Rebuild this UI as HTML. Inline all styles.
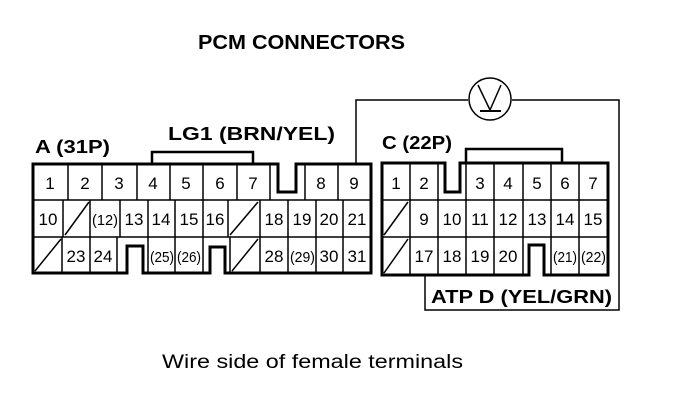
<!DOCTYPE html>
<html><head><meta charset="utf-8"><style>
html,body{margin:0;padding:0;background:#fff;}
svg{display:block;}
text{font-family:"Liberation Sans",Arial,sans-serif;fill:#000;}
.n{font-size:17px;text-anchor:middle;}
.s{font-size:15px;}
.b{font-weight:bold;}
</style></head><body>
<svg width="688" height="402" viewBox="0 0 688 402" xmlns="http://www.w3.org/2000/svg">
<g fill="none" stroke="#000">
<path d="M33,164 H278 V192 H296 V164 H371 V273 H225 V247 H210 V273 H143 V246 H127 V273 H33 Z" stroke-width="3"/>
<g stroke-width="1.5">
<line x1="33" y1="200" x2="371" y2="200"/>
<line x1="33" y1="237" x2="371" y2="237"/>
<line x1="68" y1="164" x2="68" y2="200"/><line x1="102" y1="164" x2="102" y2="200"/>
<line x1="137" y1="164" x2="137" y2="200"/><line x1="170" y1="164" x2="170" y2="200"/>
<line x1="203" y1="164" x2="203" y2="200"/><line x1="237" y1="164" x2="237" y2="200"/>
<line x1="270" y1="164" x2="270" y2="200"/><line x1="305" y1="164" x2="305" y2="200"/>
<line x1="338" y1="164" x2="338" y2="200"/>
<line x1="63" y1="200" x2="63" y2="237"/><line x1="90" y1="200" x2="90" y2="237"/>
<line x1="120" y1="200" x2="120" y2="237"/><line x1="148" y1="200" x2="148" y2="237"/>
<line x1="175" y1="200" x2="175" y2="237"/><line x1="203" y1="200" x2="203" y2="237"/>
<line x1="228" y1="200" x2="228" y2="237"/><line x1="260" y1="200" x2="260" y2="237"/>
<line x1="288" y1="200" x2="288" y2="237"/><line x1="316" y1="200" x2="316" y2="237"/>
<line x1="343" y1="200" x2="343" y2="237"/>
<line x1="65" y1="235" x2="89" y2="202"/><line x1="230" y1="235" x2="258" y2="202"/>
<line x1="62" y1="237" x2="62" y2="273"/><line x1="90" y1="237" x2="90" y2="273"/>
<line x1="117" y1="237" x2="117" y2="273"/><line x1="148" y1="237" x2="148" y2="273"/>
<line x1="175" y1="237" x2="175" y2="273"/><line x1="203" y1="237" x2="203" y2="273"/>
<line x1="230" y1="237" x2="230" y2="273"/><line x1="260" y1="237" x2="260" y2="273"/>
<line x1="288" y1="237" x2="288" y2="273"/><line x1="316" y1="237" x2="316" y2="273"/>
<line x1="343" y1="237" x2="343" y2="273"/>
<line x1="35" y1="271" x2="61" y2="239"/><line x1="232" y1="271" x2="258" y2="239"/>
</g>
<path d="M152,164 V152 H253 V164" stroke-width="2.5"/>

<path d="M382,163 H445 V192 H460 V163 H608 V275 H544 V245 H529 V275 H382 Z" stroke-width="3"/>
<g stroke-width="1.5">
<line x1="382" y1="200" x2="608" y2="200"/>
<line x1="382" y1="237" x2="608" y2="237"/>
<line x1="410" y1="163" x2="410" y2="275"/>
<line x1="438" y1="163" x2="438" y2="275"/>
<line x1="466" y1="163" x2="466" y2="275"/><line x1="494" y1="163" x2="494" y2="275"/>
<line x1="523" y1="163" x2="523" y2="275"/><line x1="551" y1="163" x2="551" y2="275"/>
<line x1="579" y1="163" x2="579" y2="275"/>
<line x1="384" y1="235" x2="408" y2="202"/><line x1="384" y1="273" x2="408" y2="239"/>
</g>
<path d="M466,163 V149 H562 V163" stroke-width="2.5"/>

<g stroke-width="1.5">
<path d="M356,164 V100 H468"/>
<path d="M512,100 H619 V310 H425 V275"/>
<circle cx="490" cy="99" r="21"/>
<path d="M478,85 L490,110 L501,85"/>
<line x1="480" y1="111" x2="501" y2="111" stroke-width="2"/>
</g>
</g>

<text x="198" y="49" class="b" font-size="20" textLength="207" lengthAdjust="spacingAndGlyphs">PCM CONNECTORS</text>
<text x="35" y="153" class="b" font-size="18" textLength="75" lengthAdjust="spacingAndGlyphs">A (31P)</text>
<text x="168" y="140" class="b" font-size="18" textLength="167" lengthAdjust="spacingAndGlyphs">LG1 (BRN/YEL)</text>
<text x="382" y="149" class="b" font-size="18" textLength="70" lengthAdjust="spacingAndGlyphs">C (22P)</text>
<text x="431" y="303" class="b" font-size="18" textLength="181" lengthAdjust="spacingAndGlyphs">ATP D (YEL/GRN)</text>
<text x="162" y="368" font-size="19" textLength="301" lengthAdjust="spacingAndGlyphs">Wire side of female terminals</text>

<g class="n">
<text x="50" y="189">1</text><text x="85" y="189">2</text><text x="119" y="189">3</text>
<text x="153" y="189">4</text><text x="186" y="189">5</text><text x="220" y="189">6</text>
<text x="253" y="189">7</text><text x="321" y="189">8</text><text x="354" y="189">9</text>
<text x="48" y="225">10</text><text x="134" y="225">13</text>
<text x="161" y="225">14</text><text x="189" y="225">15</text><text x="215" y="225">16</text>
<text x="274" y="225">18</text><text x="302" y="225">19</text><text x="329" y="225">20</text>
<text x="357" y="225">21</text>
<text x="76" y="262">23</text><text x="103" y="262">24</text>
<text x="274" y="262">28</text><text x="329" y="262">30</text><text x="357" y="262">31</text>
</g>
<g class="s">
<text x="92" y="225" textLength="26" lengthAdjust="spacingAndGlyphs">(12)</text>
<text x="150" y="262" textLength="24" lengthAdjust="spacingAndGlyphs">(25)</text>
<text x="177" y="262" textLength="24" lengthAdjust="spacingAndGlyphs">(26)</text>
<text x="290" y="262" textLength="25" lengthAdjust="spacingAndGlyphs">(29)</text>
</g>
<g class="n">
<text x="396" y="189">1</text><text x="424" y="189">2</text>
<text x="480" y="189">3</text><text x="508" y="189">4</text><text x="537" y="189">5</text>
<text x="565" y="189">6</text><text x="593" y="189">7</text>
<text x="424" y="225">9</text><text x="452" y="225">10</text><text x="480" y="225">11</text>
<text x="508" y="225">12</text><text x="537" y="225">13</text><text x="565" y="225">14</text>
<text x="593" y="225">15</text>
<text x="424" y="262">17</text><text x="452" y="262">18</text><text x="480" y="262">19</text>
<text x="508" y="262">20</text>
</g>
<g class="s">
<text x="553" y="262" textLength="24" lengthAdjust="spacingAndGlyphs">(21)</text>
<text x="581" y="262" textLength="25" lengthAdjust="spacingAndGlyphs">(22)</text>
</g>
</svg>
</body></html>
